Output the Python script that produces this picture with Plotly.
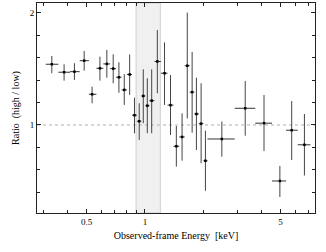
import numpy as np
import plotly.graph_objects as go

# Energy bin centres and edges (keV)
energy = [0.331, 0.383, 0.433, 0.486, 0.534, 0.586, 0.636, 0.686, 0.734, 0.782,
          0.834, 0.883, 0.934, 0.980, 1.028, 1.083, 1.158, 1.261, 1.354, 1.451,
          1.553, 1.652, 1.750, 1.841, 1.947, 2.049, 2.49, 3.286, 4.106, 4.956,
          5.703, 6.633]
edges = [0.308, 0.358, 0.411, 0.461, 0.514, 0.562, 0.610, 0.661, 0.710, 0.758,
         0.807, 0.858, 0.908, 0.957, 1.004, 1.055, 1.120, 1.208, 1.307, 1.402,
         1.502, 1.602, 1.700, 1.796, 1.895, 1.999, 2.099, 2.901, 3.702, 4.517,
         5.335, 6.125, 7.123]
# Ratio (high / low) with upper/lower bounds
ratio = [1.542, 1.471, 1.476, 1.574, 1.274, 1.506, 1.545, 1.503, 1.426, 1.313,
         1.451, 1.087, 1.033, 1.259, 1.172, 1.217, 1.567, 1.462, 1.177, 0.810,
         0.893, 1.529, 1.293, 1.098, 1.012, 0.680, 0.875, 1.149, 1.016, 0.500,
         0.953, 0.823]
ratio_hi = [1.616, 1.542, 1.551, 1.661, 1.342, 1.610, 1.670, 1.631, 1.560, 1.453,
            1.630, 1.243, 1.194, 1.497, 1.417, 1.497, 1.848, 1.737, 1.446, 0.991,
            1.104, 2.003, 1.652, 1.422, 1.372, 0.949, 1.031, 1.393, 1.268, 0.634,
            1.214, 1.098]
ratio_lo = [1.462, 1.396, 1.402, 1.485, 1.194, 1.396, 1.422, 1.372, 1.288, 1.179,
            1.268, 0.926, 0.866, 1.015, 0.926, 0.926, 1.283, 1.179, 0.911, 0.628,
            0.681, 1.058, 0.931, 0.777, 0.658, 0.4125, 0.717, 0.904, 0.768, 0.357,
            0.6875, 0.549]

band = [0.9, 1.2]
ref_level = 1.0

x_major = [0.5, 1, 5]
x_minor = [0.3, 0.4, 0.6, 0.7, 0.8, 0.9, 2, 3, 4, 6, 7]
y_major = [1, 2]
y_minor = [0.4, 0.6, 0.8, 1.2, 1.4, 1.6, 1.8]

e = np.array(energy)
ed = np.array(edges)
r = np.array(ratio)

fig = go.Figure()
fig.add_trace(go.Scatter(
    x=energy, y=ratio, mode="markers",
    marker=dict(symbol="square", size=2.5, color="black"),
    error_x=dict(type="data", symmetric=False,
                 array=(ed[1:] - e).tolist(), arrayminus=(e - ed[:-1]).tolist(),
                 width=0, thickness=1, color="#333"),
    error_y=dict(type="data", symmetric=False,
                 array=(np.array(ratio_hi) - r).tolist(),
                 arrayminus=(r - np.array(ratio_lo)).tolist(),
                 width=0, thickness=1, color="#444"),
    showlegend=False,
))

fig.add_shape(type="rect", xref="x", yref="paper", x0=band[0], x1=band[1],
              y0=0, y1=1, fillcolor="#f0f0f0", line=dict(color="#d0d0d0", width=1),
              layer="below")
fig.add_shape(type="line", xref="paper", yref="y", x0=0, x1=1,
              y0=ref_level, y1=ref_level,
              line=dict(color="#b0b0b0", width=1, dash="dot"), layer="below")

font = dict(family="Liberation Serif, Times New Roman, serif", size=9, color="black")
axis_common = dict(showline=True, linecolor="#222", linewidth=1, mirror="ticks",
                   ticks="inside", ticklen=4, tickcolor="#222", showgrid=False,
                   zeroline=False, tickfont=font, automargin=False)

fig.update_xaxes(type="log", range=[np.log10(0.2777), np.log10(7.52)],
                 tickmode="array", tickvals=x_major, ticktext=["0.5", "1", "5"],
                 title=dict(text="Observed-frame Energy\u00a0\u00a0[keV]", font=dict(font, size=10), standoff=6),
                 minor=dict(tickmode="array", tickvals=x_minor, ticks="inside",
                            ticklen=3, tickcolor="#222", showgrid=False),
                 **axis_common)
fig.update_yaxes(range=[0.214, 2.089],
                 tickmode="array", tickvals=y_major, ticktext=["1", "2"],
                 title=dict(text="Ratio\u00a0\u00a0(high / low)", font=dict(font, size=10), standoff=8),
                 minor=dict(tickmode="array", tickvals=y_minor, ticks="inside",
                            ticklen=3, tickcolor="#222", showgrid=False),
                 **axis_common)

fig.update_layout(width=326, height=252, margin=dict(l=37, r=11, t=3, b=39),
                  plot_bgcolor="white", paper_bgcolor="white", font=font)

fig.write_html("out.html", config={"displayModeBar": False},
               post_script="document.body.style.margin='0';document.body.style.overflow='hidden';")
